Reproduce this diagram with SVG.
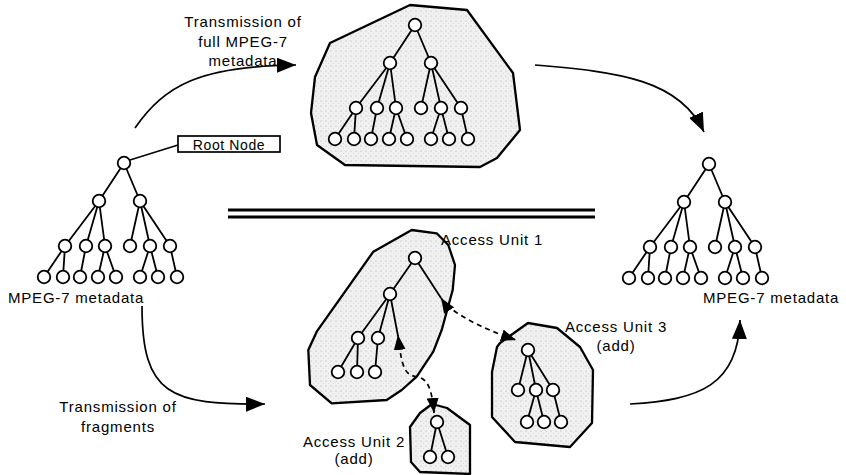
<svg xmlns="http://www.w3.org/2000/svg" xmlns:xlink="http://www.w3.org/1999/xlink" width="846" height="475" viewBox="0 0 846 475">
<style>
  .t { font-family: "Liberation Sans", Arial, sans-serif; font-size: 15px; letter-spacing: 0.8px; fill: #000; }
  .mid { text-anchor: middle; }
  .edge { stroke: #000; stroke-width: 1.8; fill: none; }
  .nd { fill: #fff; stroke: #000; stroke-width: 1.8; }
  .blob { fill: url(#stip); stroke: #000; stroke-width: 2.3; stroke-linejoin: round; }
  .conn { stroke: #000; stroke-width: 1.7; fill: none; }
  .dash { stroke: #000; stroke-width: 1.7; fill: none; stroke-dasharray: 5 4; }
</style>
<defs>
  <pattern id="stip" width="5" height="5" patternUnits="userSpaceOnUse">
    <rect width="5" height="5" fill="#f1f1f1"/>
    <circle cx="1" cy="1" r="0.6" fill="#a8a8a8"/>
    <circle cx="3.5" cy="3.2" r="0.45" fill="#c0c0c0"/>
  </pattern>
  <marker id="arr" markerUnits="userSpaceOnUse" markerWidth="19" markerHeight="15" refX="19" refY="7.5" orient="auto">
    <path d="M0,0 L19,7.5 L0,15 z" fill="#000"/>
  </marker>
  <marker id="arrS" markerUnits="userSpaceOnUse" markerWidth="15" markerHeight="12" refX="15" refY="6" orient="auto-start-reverse">
    <path d="M0,0 L15,6 L0,12 z" fill="#000"/>
  </marker>
  <g id="bigtree">
    <path class="edge" d="M0,0 L-25,38 M0,0 L16,38 M-25,38 L-59,83 M-25,38 L-38,83 M-25,38 L-19,83 M16,38 L6,83 M16,38 L26,83 M16,38 L46,83 M-59,83 L-80,114 M-59,83 L-61,114 M-38,83 L-44,114 M-19,83 L-26,114 M-19,83 L-8,114 M26,83 L16,114 M26,83 L34,114 M46,83 L53,114"/>
    <circle class="nd" cx="0" cy="0" r="6.3"/>
    <circle class="nd" cx="-25" cy="38" r="6.3"/>
    <circle class="nd" cx="16" cy="38" r="6.3"/>
    <circle class="nd" cx="-59" cy="83" r="6.3"/>
    <circle class="nd" cx="-38" cy="83" r="6.3"/>
    <circle class="nd" cx="-19" cy="83" r="6.3"/>
    <circle class="nd" cx="6" cy="83" r="6.3"/>
    <circle class="nd" cx="26" cy="83" r="6.3"/>
    <circle class="nd" cx="46" cy="83" r="6.3"/>
    <circle class="nd" cx="-80" cy="114" r="6.3"/>
    <circle class="nd" cx="-61" cy="114" r="6.3"/>
    <circle class="nd" cx="-44" cy="114" r="6.3"/>
    <circle class="nd" cx="-26" cy="114" r="6.3"/>
    <circle class="nd" cx="-8" cy="114" r="6.3"/>
    <circle class="nd" cx="16" cy="114" r="6.3"/>
    <circle class="nd" cx="34" cy="114" r="6.3"/>
    <circle class="nd" cx="53" cy="114" r="6.3"/>
  </g>
</defs>
<rect width="846" height="475" fill="#fff"/>

<!-- separator -->
<g id="separator">
  <line x1="228" y1="210" x2="595" y2="210" stroke="#000" stroke-width="3"/>
  <line x1="228" y1="217" x2="595" y2="217" stroke="#000" stroke-width="3"/>
</g>

<!-- Source tree -->
<g id="source-tree">
  <use xlink:href="#bigtree" href="#bigtree" transform="translate(124,163)"/>
  <text class="t" x="8" y="303">MPEG-7 metadata</text>
</g>

<g id="root-node-label">
  <line x1="130" y1="160" x2="178" y2="145" stroke="#000" stroke-width="1.5"/>
  <rect x="178" y="136" width="102" height="16" fill="#fff" stroke="#000" stroke-width="1.7"/>
  <text class="t" x="229" y="149.5" style="font-size:14px;letter-spacing:0.6px" text-anchor="middle">Root Node</text>
</g>

<!-- Full metadata blob -->
<g id="full-metadata">
  <polygon class="blob" points="330,43 410,5 467,10 513,73 520,130 497,158 480,167 345,165 317,145 311,113 315,77"/>
  <use xlink:href="#bigtree" href="#bigtree" transform="translate(415,25)"/>
</g>

<!-- Result tree -->
<g id="result-tree">
  <use xlink:href="#bigtree" href="#bigtree" transform="translate(709,164)"/>
  <text class="t" x="703" y="303">MPEG-7 metadata</text>
</g>

<!-- Access Unit 1 -->
<g id="access-unit-1">
  <polygon class="blob" points="411.7,230 436.7,233.3 448.3,245 455,265 452.7,290 441.7,330 433.3,351.7 416.7,376.7 401.7,390 386.7,400 331.7,403.3 310,385 308.3,350 316.7,331.7 373.3,251.7"/>
  <path class="edge" d="M415,258 L390,294 M415,258 L441,298 M390,294 L358,338 M390,294 L378,338 M390,294 L398,336 M358,338 L338,372 M358,338 L357,372 M378,338 L375,372"/>
  <circle class="nd" cx="415" cy="258" r="6.3"/>
  <circle class="nd" cx="390" cy="294" r="6.3"/>
  <circle class="nd" cx="358" cy="338" r="6.3"/>
  <circle class="nd" cx="378" cy="338" r="6.3"/>
  <circle class="nd" cx="338" cy="372" r="6.3"/>
  <circle class="nd" cx="357" cy="372" r="6.3"/>
  <circle class="nd" cx="375" cy="372" r="6.3"/>
  <text class="t" x="441" y="245">Access Unit 1</text>
</g>

<!-- Access Unit 3 -->
<g id="access-unit-3">
  <polygon class="blob" points="500,343 528,323 557,328 580,347 593,370 592,423 570,447 515,442 492,417 492,372 497,347"/>
  <path class="edge" d="M528,350 L518,390 M528,350 L536,390 M528,350 L553,390 M536,390 L527,422 M536,390 L544,422 M553,390 L561,422"/>
  <circle class="nd" cx="528" cy="350" r="6.3"/>
  <circle class="nd" cx="518" cy="390" r="6.3"/>
  <circle class="nd" cx="536" cy="390" r="6.3"/>
  <circle class="nd" cx="553" cy="390" r="6.3"/>
  <circle class="nd" cx="527" cy="422" r="6.3"/>
  <circle class="nd" cx="544" cy="422" r="6.3"/>
  <circle class="nd" cx="561" cy="422" r="6.3"/>
  <text class="t mid" x="616" y="332">Access Unit 3</text>
  <text class="t mid" x="616" y="351">(add)</text>
</g>

<!-- Access Unit 2 -->
<g id="access-unit-2">
  <polygon class="blob" points="420,413 432,404 447,408 470,425 470,474 420,472 411,462 410,427"/>
  <path class="edge" d="M437,422 L430,457 M437,422 L448,457"/>
  <circle class="nd" cx="437" cy="422" r="6.3"/>
  <circle class="nd" cx="430" cy="457" r="6.3"/>
  <circle class="nd" cx="448" cy="457" r="6.3"/>
  <text class="t mid" x="354" y="447">Access Unit 2</text>
  <text class="t mid" x="354" y="464">(add)</text>
</g>

<!-- Connectors -->
<g id="connectors">
  <path class="conn" d="M135,128 C165,85 200,66 296,65" marker-end="url(#arr)"/>
  <path class="conn" d="M535,65 C620,72 680,80 704,132" marker-end="url(#arr)"/>
  <path class="conn" d="M142,306 C142,395 170,405 265,404" marker-end="url(#arr)"/>
  <path class="conn" d="M630,404 C700,400 738,385 740,320" marker-end="url(#arr)"/>
  <path class="dash" d="M441,298 C450,312 480,328 516,340" marker-start="url(#arrS)" marker-end="url(#arrS)"/>
  <path class="dash" d="M398,335 C402,370 405,375 418,377 C428,379 432,390 434,413" marker-start="url(#arrS)" marker-end="url(#arrS)"/>
</g>

<!-- Transmission labels -->
<g id="label-full">
  <text class="t mid" x="243" y="27">Transmission of</text>
  <text class="t mid" x="243" y="47">full MPEG-7</text>
  <text class="t mid" x="243" y="66">metadata</text>
</g>
<g id="label-fragments">
  <text class="t mid" x="118" y="412">Transmission of</text>
  <text class="t mid" x="118" y="432">fragments</text>
</g>
</svg>
